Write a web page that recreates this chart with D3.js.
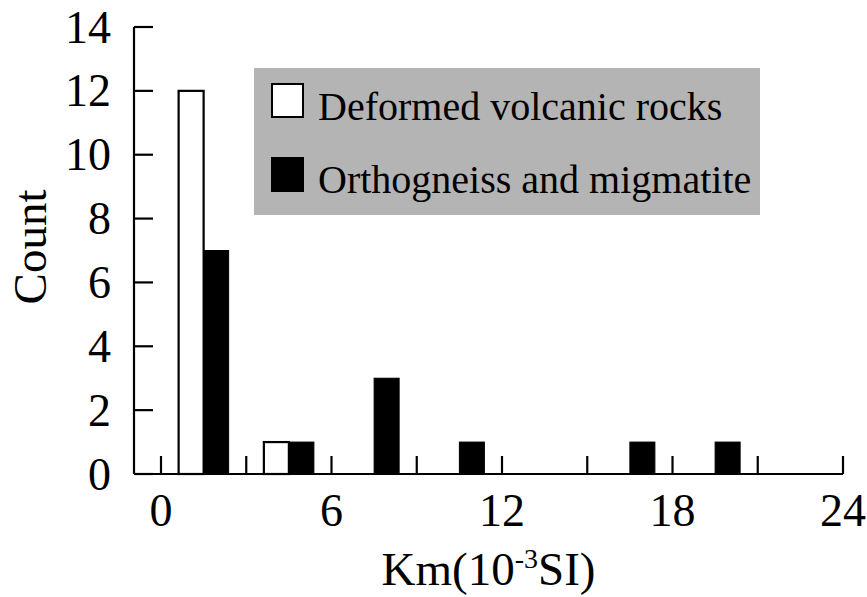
<!DOCTYPE html>
<html>
<head>
<meta charset="utf-8">
<script src="https://cdn.jsdelivr.net/npm/d3@7"></script>
<style>
  html, body { margin: 0; padding: 0; background: #fff; }
  svg { display: block; }
  text { font-family: "Liberation Serif", "Times New Roman", serif; fill: #000; }
</style>
</head>
<body>
<svg id="chart" width="867" height="597"></svg>
<script>
// ---- data ----
const binStarts = [0, 3, 6, 9, 12, 15, 18, 21];
const binWidth = 3;
const volcanic = [12, 1, 0, 0, 0, 0, 0, 0];   // Deformed volcanic rocks
const ortho    = [7, 1, 3, 1, 0, 1, 1, 0];    // Orthogneiss and migmatite
const xTicks = [0, 3, 6, 9, 12, 15, 18, 21, 24];
const xTickLabels = [0, 6, 12, 18, 24];
const yTicks = [0, 2, 4, 6, 8, 10, 12, 14];
const seriesNames = ["Deformed volcanic rocks", "Orthogneiss and migmatite"];

const svg = d3.select("#chart");
const x = d3.scaleLinear().domain([0, 24]).range([161, 843]);
const y = d3.scaleLinear().domain([0, 14]).range([474, 27]);
const axisLeftX = 134;
const barW = 0.88; // in data units

// bars
const g = svg.append("g");
binStarts.forEach((b, i) => {
  const c = b + binWidth / 2;
  if (volcanic[i] > 0) {
    g.append("rect")
      .attr("x", x(c - barW)).attr("y", y(volcanic[i]))
      .attr("width", x(c) - x(c - barW)).attr("height", y(0) - y(volcanic[i]))
      .attr("fill", "#fff").attr("stroke", "#000").attr("stroke-width", 2.2);
  }
  if (ortho[i] > 0) {
    g.append("rect")
      .attr("x", x(c)).attr("y", y(ortho[i]))
      .attr("width", x(c + barW) - x(c)).attr("height", y(0) - y(ortho[i]))
      .attr("fill", "#000").attr("stroke", "#000").attr("stroke-width", 1);
  }
});

// y axis
svg.append("line").attr("x1", axisLeftX).attr("x2", axisLeftX)
  .attr("y1", y(14)).attr("y2", y(0)).attr("stroke", "#000").attr("stroke-width", 2.2);
yTicks.forEach(t => {
  svg.append("line").attr("x1", axisLeftX).attr("x2", axisLeftX + 19)
    .attr("y1", y(t)).attr("y2", y(t)).attr("stroke", "#000").attr("stroke-width", 2.2);
  svg.append("text").attr("x", 111).attr("y", y(t)).attr("dy", "0.34em")
    .attr("text-anchor", "end").attr("font-size", 46).text(t);
});

// x axis
svg.append("line").attr("x1", axisLeftX).attr("x2", x(24))
  .attr("y1", y(0)).attr("y2", y(0)).attr("stroke", "#000").attr("stroke-width", 2.2);
xTicks.forEach(t => {
  svg.append("line").attr("x1", x(t)).attr("x2", x(t))
    .attr("y1", y(0)).attr("y2", y(0) - 18).attr("stroke", "#000").attr("stroke-width", 2.2);
});
xTickLabels.forEach(t => {
  svg.append("text").attr("x", x(t)).attr("y", 526)
    .attr("text-anchor", "middle").attr("font-size", 46).text(t);
});

// axis titles
const xl = svg.append("text").attr("x", (axisLeftX + x(24)) / 2).attr("y", 585)
  .attr("text-anchor", "middle").attr("font-size", 47);
xl.append("tspan").text("Km(10");
xl.append("tspan").attr("font-size", 28).attr("dy", -17).text("-3");
xl.append("tspan").attr("dy", 17).text("SI)");

svg.append("text").attr("transform", "translate(46,247) rotate(-90)")
  .attr("text-anchor", "middle").attr("font-size", 47).text("Count");

// legend
const lg = svg.append("g");
lg.append("rect").attr("x", 254).attr("y", 68).attr("width", 506).attr("height", 147)
  .attr("fill", "#b4b4b4");
const legRows = [{ y: 84, fill: "#fff", base: 120 }, { y: 158, fill: "#000", base: 193 }];
legRows.forEach((r, i) => {
  lg.append("rect").attr("x", 272).attr("y", r.y).attr("width", 31).attr("height", 33)
    .attr("fill", r.fill).attr("stroke", "#000").attr("stroke-width", 2);
  lg.append("text").attr("x", 318).attr("y", r.base).attr("font-size", 40).text(seriesNames[i]);
});
</script>
</body>
</html>
